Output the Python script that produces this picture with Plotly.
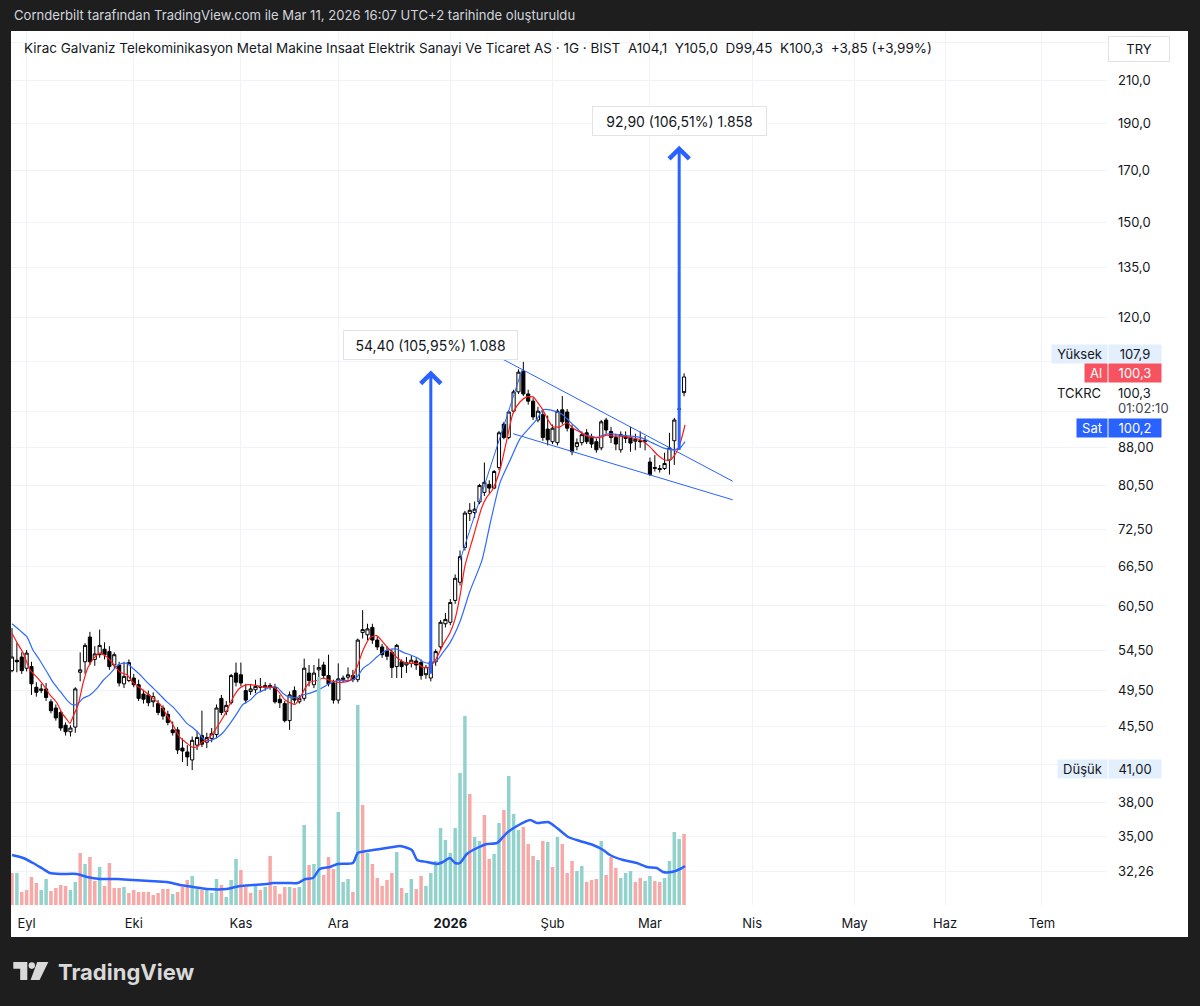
import math
import plotly.graph_objects as go

# ---------------- DATA ----------------
opens = [51.9,53.2,53.6,52.2,52.4,49.9,49.5,49.7,48.2,47.5,47.0,45.6,44.9,45.4,51.7,53.0,56.2,53.3,53.9,54.6,
         54.3,52.6,52.6,50.3,50.7,51.0,50.2,49.1,49.0,48.8,48.0,47.5,46.8,45.1,45.1,43.2,42.3,42.0,43.5,44.5,
         43.8,44.2,44.6,48.6,47.1,48.1,51.6,51.4,49.5,49.4,49.6,50.0,49.9,50.1,49.9,48.5,48.0,46.1,49.5,48.2,
         48.6,51.6,50.2,52.0,52.6,51.3,50.4,48.4,50.8,51.1,51.3,50.8,56.8,56.5,57.5,55.8,54.9,54.4,54.2,52.4,
         53.0,52.9,52.8,53.1,52.9,52.3,51.0,53.0,54.9,58.0,58.2,61.3,64.0,69.5,75.3,75.5,77.4,79.2,80.7,80.0,
         84.0,93.1,90.2,96.0,100.5,105.5,100.0,98.3,94.0,95.2,92.0,89.3,89.1,96.3,95.8,92.2,88.3,89.1,91.2,90.4,
         89.3,88.0,94.0,91.5,90.2,87.6,90.4,90.2,89.4,89.5,89.3,85.1,83.8,83.8,83.8,85.5,89.5,96.5,104.1]
highs = [57.4,55.4,54.2,54.5,53.0,50.5,50.3,50.4,48.5,47.9,47.2,45.9,45.6,49.9,54.2,55.4,56.9,55.0,57.2,55.5,
         55.0,54.2,53.0,53.0,53.3,51.5,50.8,49.6,49.5,49.3,48.4,47.8,47.2,46.0,45.4,44.2,43.5,44.4,45.0,47.2,
         44.8,45.3,47.9,49.0,48.3,51.5,52.9,52.9,50.3,50.3,50.8,51.0,50.5,50.4,50.3,49.0,48.3,49.4,50.0,49.0,
         53.4,52.6,52.6,53.4,53.0,53.9,50.8,52.8,51.3,52.3,52.0,56.0,59.9,58.0,58.0,56.3,55.3,55.0,54.6,55.3,
         53.3,53.6,53.8,53.5,53.3,52.6,53.2,54.6,58.5,59.5,61.5,65.2,69.0,75.8,77.2,77.5,80.8,85.0,81.5,83.5,
         91.6,93.6,96.2,101.0,106.0,107.9,101.0,99.0,97.0,96.0,95.0,93.0,96.5,99.5,96.5,93.0,90.0,91.5,92.0,91.0,
         90.0,94.0,94.5,92.5,91.0,91.5,91.5,92.5,91.0,91.5,90.5,86.0,86.5,84.5,87.0,91.2,94.5,99.5,105.0]
lows = [51.7,51.7,51.5,51.8,49.0,48.8,49.2,48.3,46.9,46.1,45.0,44.5,44.4,44.8,50.6,51.5,52.6,52.5,53.5,53.3,
        52.0,52.2,50.0,49.8,50.5,49.9,48.3,48.0,47.7,47.6,46.7,46.2,45.6,44.5,42.6,41.8,41.4,41.0,43.0,43.3,
        43.2,43.8,44.2,46.7,46.7,47.9,50.0,50.0,48.0,49.0,49.2,49.3,49.5,49.6,48.0,47.5,45.9,45.1,48.0,48.0,
        48.3,50.0,49.8,49.5,50.9,50.0,48.0,48.0,50.5,50.8,50.5,50.5,56.0,55.8,55.3,54.5,53.5,53.2,51.0,51.0,
        51.0,51.6,52.3,52.0,50.8,50.9,50.6,52.5,54.5,57.5,57.8,60.8,63.5,69.0,74.0,74.5,77.0,78.5,79.0,79.8,
        83.5,89.8,89.8,95.5,100.0,99.5,97.5,94.0,93.5,89.5,88.5,88.8,88.5,93.0,91.5,86.5,87.5,88.5,88.8,88.0,
        87.0,87.5,91.0,89.0,87.5,87.0,89.0,87.2,87.5,88.0,87.5,82.3,83.2,83.0,83.5,82.6,84.5,93.6,99.45]
closes = [53.6,53.0,51.9,54.1,50.3,49.3,49.7,48.7,47.2,46.4,45.3,44.9,45.3,49.7,52.0,55.1,53.0,54.0,55.1,53.9,
          52.4,53.9,50.4,51.2,52.9,50.2,48.6,48.5,48.1,48.2,47.0,46.6,45.9,44.8,43.0,42.9,42.8,44.0,44.3,43.6,
          44.3,44.7,47.5,47.0,47.8,51.3,50.5,50.4,48.4,49.7,50.0,49.9,50.1,49.9,48.2,48.1,46.1,49.0,48.4,48.6,
          52.2,50.7,51.6,52.3,51.3,50.3,48.4,50.9,51.0,51.4,50.8,55.8,57.2,57.3,55.8,54.9,53.9,53.7,52.3,55.1,
          52.4,52.6,53.2,52.6,51.3,51.4,53.0,54.3,58.2,58.6,61.0,64.6,68.0,75.4,75.9,76.1,80.5,81.1,80.0,83.2,
          91.2,90.2,95.8,100.5,105.3,100.0,98.3,94.7,96.0,90.2,89.7,92.2,96.0,93.6,92.2,87.2,89.1,90.8,89.3,88.8,
          87.6,93.6,91.8,90.2,88.8,90.8,90.0,89.0,89.8,89.3,89.6,82.6,84.0,83.6,84.8,88.0,94.0,96.45,100.3]
volumes = [3.2,3.2,1.3,1.5,2.8,2.2,1.5,2.6,1.4,1.7,2.0,1.9,1.5,2.3,5.2,4.1,4.8,2.4,3.8,1.9,
           4.2,1.7,1.7,1.8,1.2,1.5,1.3,1.3,1.3,1.0,1.2,1.6,1.6,1.1,1.3,1.8,2.5,2.9,1.6,1.5,
           1.5,1.2,2.6,2.0,0.8,2.5,4.6,3.5,1.8,1.2,1.9,1.5,1.8,4.9,1.9,1.1,1.8,1.8,1.7,1.8,
           8.0,4.0,4.1,22.8,3.0,4.8,3.6,9.3,2.3,2.6,1.3,20.0,10.0,5.2,4.1,2.7,1.9,2.5,3.2,5.3,
           1.7,1.2,2.6,1.6,2.9,1.9,3.2,4.4,7.7,6.5,5.2,7.7,13.2,18.9,11.1,6.8,6.4,9.0,4.6,5.1,
           8.2,9.5,12.9,9.1,7.5,7.8,6.1,4.9,4.5,6.4,6.3,3.8,6.8,6.1,3.2,4.4,3.4,3.9,2.3,2.5,
           2.6,6.4,3.0,4.8,3.7,2.7,3.2,3.4,2.3,2.7,2.4,2.9,2.4,2.3,2.7,4.4,7.3,6.6,7.1]
vol_dir = ("RTRRRRTTRRRRTTRTRRTRRRRTRRRRRRRRRTRRRTTRTTTRTTTRRRTRTRRRRTRT"
           "TRTTRRRTTTRTRTRRRRRTRTTRRTTTTTTTTTRTTRRTTRTTTRRRTRTRTRRRTTRRRTRRRTTTRRTTRRTTTTR")

red_ma_x = [0,1.0,2.3,3.7,5.1,6.4,7.8,9.2,10.3,11.3,11.9,12.5,13.6,14.6,15.6,17.0,18.1,19.5,20.7,22.2,23.6,24.8,
            26.3,27.7,29.0,30.4,31.8,33.1,34.5,35.9,37.0,38.0,39.0,40.0,41.3,42.7,44.1,45.4,46.8,48.3,50.3,51.5,
            53.0,54.0,55.0,56.1,57.1,58.1,59.1,60.2,61.2,62.6,63.9,65.3,66.7,68.0,69.4,70.8,72.1,73.5,74.9,76.2,
            77.6,79.1,80.3,81.7,83.2,84.4,85.8,87.3,88.5,89.9,91.0,92.0,93.0,94.7,96.5,97.5,98.6,100.2,101.6,
            102.9,104.3,105.7,107.0,108.0,109.0,110.1,111.1,112.5,114.0,115.2,116.6,118.1,119.3,120.7,122.2,
            123.4,124.8,126.9,129.0,131.0,132.6,134.1,135.1,136.1,137.2,138.2]
red_ma_y = [56.7,55.5,54.1,52.0,51.1,50.2,49.0,48.1,46.9,46.2,45.8,46.5,47.9,50.4,52.3,53.6,54.1,53.6,52.8,51.7,51.4,
            50.5,49.8,49.2,48.6,47.9,46.7,45.6,44.3,43.7,43.3,43.3,43.8,44.0,44.8,45.9,47.2,48.7,49.8,50.2,50.1,
            49.9,49.9,49.8,49.2,48.4,48.1,47.9,48.6,49.8,50.5,50.7,51.0,50.7,50.5,50.5,50.7,52.3,54.5,56.1,56.4,
            55.5,54.5,53.5,53.0,52.8,52.8,52.3,52.3,53.6,55.2,56.7,58.7,62.0,66.5,71.2,76.5,78.3,79.6,83.5,89.7,
            95.6,98.1,99.3,99.3,97.9,96.3,94.0,92.5,92.5,93.4,92.2,91.4,90.5,90.2,90.2,90.7,90.5,90.5,90.2,89.7,
            88.2,86.5,85.5,85.5,86.5,89.0,92.9]
blue_ma_x = [0,1.6,3.1,4.3,5.7,7.2,8.4,9.9,11.3,12.3,13.3,14.6,16.0,17.5,18.7,20.1,21.6,22.6,23.6,24.8,26.3,27.7,
             29.0,30.4,31.8,33.1,34.5,35.9,37.2,38.6,39.6,40.7,42.1,43.3,44.8,46.2,47.4,48.9,50.3,51.5,53.0,54.4,
             55.6,57.1,58.5,59.8,61.2,62.6,63.9,65.3,66.7,68.0,69.4,70.8,72.1,73.5,74.9,76.2,77.6,79.1,80.3,81.7,
             83.2,84.4,85.8,87.3,88.5,89.9,92.0,94.0,96.5,98.2,100.2,102.3,104.3,106.0,107.8,109.0,110.5,111.9,
             113.1,114.6,116.0,117.2,118.7,120.1,121.4,122.8,124.8,127.0,129.0,131.6,133.7,135.7,137.2,138.2]
blue_ma_y = [58.0,57.1,56.2,54.5,53.2,51.7,50.5,49.4,48.4,47.9,47.9,48.6,49.0,49.8,50.7,51.5,52.5,52.8,52.8,52.2,
             51.4,50.5,49.8,49.0,48.2,47.6,46.7,45.8,45.3,44.6,44.0,44.0,44.3,44.8,45.8,46.9,47.9,48.4,49.2,49.5,
             49.9,49.9,49.2,48.7,48.7,49.0,49.2,49.5,49.9,50.4,50.7,50.7,50.7,51.1,52.2,52.8,53.6,54.2,54.6,54.6,
             54.2,53.9,53.5,53.0,52.8,53.2,54.2,55.4,58.3,62.6,67.4,73.6,81.0,85.5,89.9,92.0,94.2,96.3,96.3,95.8,
             95.2,93.6,92.2,91.0,90.5,90.2,90.7,91.0,90.7,90.5,90.2,89.0,88.0,87.6,88.0,89.3]
vol_ma_x = [0,2.3,4.3,6.4,7.8,9.9,13.3,15.4,18.1,21.6,24.8,28.3,31.8,34.5,37.2,40.0,44.1,46.8,49.5,52.4,53.6,56.5,
            58.7,60.2,61.8,63.2,65.3,66.9,70.0,71.0,72.9,75.6,78.2,79.7,82.1,83.2,85.2,87.3,88.5,89.9,91.0,92.0,
            93.4,95.5,97.5,99.6,101.6,103.7,106.4,107.8,110.1,111.9,114.2,116.6,119.3,121.4,122.8,125.5,128.3,
            130.4,132.4,133.7,135.5,137.2,138.2]
vol_ma_y = [5.0,4.7,4.2,3.6,3.2,3.1,3.1,2.8,2.6,2.6,2.5,2.4,2.3,2.0,1.8,1.6,1.6,1.9,2.0,2.1,2.2,2.2,2.2,2.6,2.7,
            3.6,3.8,4.1,4.2,5.2,5.4,5.6,5.8,5.9,5.5,4.5,4.3,4.1,4.3,4.7,4.2,4.2,5.1,5.7,6.1,6.2,7.2,7.9,8.5,8.2,
            8.3,7.7,6.8,6.4,6.0,5.5,5.0,4.5,4.2,3.8,3.7,3.3,3.3,3.6,3.9]

# drawn lines (bar index, price)
wedge_upper_x = [100.6, 148.0]
wedge_upper_y = [108.7, 81.3]
wedge_lower_x = [102.9, 148.0]
wedge_lower_y = [91.0, 77.8]
pole_x = [92.0, 104.7]
pole_y = [67.4, 105.8]

# measurement arrows
arrow_bar = [86, 137]
arrow_from = [51.34, 87.22]
arrow_to = [105.74, 180.12]
arrow_text = ["54,40 (105,95%) 1.088", "92,90 (106,51%) 1.858"]

month_idx = [3, 25, 47, 67, 90, 111, 131, 152, 173, 191.6, 211.5]
month_lbl = ["Eyl", "Eki", "Kas", "Ara", "<b>2026</b>", "Şub", "Mar", "Nis", "May", "Haz", "Tem"]

price_ticks = [230, 210, 190, 170, 150, 135, 120, 108, 96, 88, 80.5, 72.5, 66.5, 60.5, 54.5, 49.5, 45.5,
               41.5, 38, 35, 32.26]
price_lbls = ["", "210,0", "190,0", "170,0", "150,0", "135,0", "120,0", "", "", "88,00", "80,50", "72,50",
              "66,50", "60,50", "54,50", "49,50", "45,50", "", "38,00", "35,00", "32,26"]

symbol_name = "Kirac Galvaniz Telekominikasyon Metal Makine Insaat Elektrik Sanayi Ve Ticaret AS · 1G · BIST"
title_txt = "Cornderbilt tarafından TradingView.com ile Mar 11, 2026 16:07 UTC+2 tarihinde oluşturuldu"
high_val, low_val, ask_val, bid_val = 107.9, 41.00, 100.3, 100.2
countdown = "01:02:10"
ticker = "TCKRC"

# ---------------- FIGURE ----------------
W, H = 1200, 1006
PL, PR, PT, PB = 11, 1107, 31, 905
FONT = "Inter"
TXT = "#131722"
BLUE = "#2962ff"


def fx(px):
    return (px - PL) / (PR - PL)


def fy(py):
    return (PB - py) / (PB - PT)


def fmt(v, dec):
    return f"{v:.{dec}f}".replace(".", ",")


n = len(closes)
idx = list(range(n))
up = [True] + [closes[i] >= closes[i - 1] for i in range(1, n)]

fig = go.Figure()

# volume
vcol = ["#92d2cc" if c == "T" else "#f7a9a7" for c in vol_dir[:n]]
fig.add_trace(go.Bar(x=idx, y=volumes, yaxis="y2", marker=dict(color=vcol, line=dict(width=0)),
                     width=0.72, hoverinfo="skip", showlegend=False))
fig.add_trace(go.Scatter(x=vol_ma_x, y=vol_ma_y, yaxis="y2", mode="lines",
                         line=dict(color=BLUE, width=2.5, shape="spline", smoothing=0.6),
                         hoverinfo="skip", showlegend=False))

# drawn wedge / pole
for xs, ys in [(wedge_upper_x, wedge_upper_y), (wedge_lower_x, wedge_lower_y), (pole_x, pole_y)]:
    fig.add_trace(go.Scatter(x=xs, y=ys, mode="lines", line=dict(color=BLUE, width=1),
                             hoverinfo="skip", showlegend=False))


def candles(mask, fill):
    sel = [i for i in idx if mask[i]]
    style = dict(line=dict(color="#000000", width=1), fillcolor=fill)
    return go.Candlestick(x=sel, open=[opens[i] for i in sel], high=[highs[i] for i in sel],
                          low=[lows[i] for i in sel], close=[closes[i] for i in sel],
                          increasing=style, decreasing=style, whiskerwidth=0,
                          hoverinfo="skip", showlegend=False)


fig.add_trace(candles(up, "#ffffff"))
fig.add_trace(candles([not u for u in up], "#000000"))

fig.add_trace(go.Scatter(x=blue_ma_x, y=blue_ma_y, mode="lines",
                         line=dict(color="#2f6bff", width=1.2, shape="spline", smoothing=0.6),
                         hoverinfo="skip", showlegend=False))
fig.add_trace(go.Scatter(x=red_ma_x, y=red_ma_y, mode="lines",
                         line=dict(color="#ff1a1a", width=1.2, shape="spline", smoothing=0.6),
                         hoverinfo="skip", showlegend=False))

ylo, yhi = 29.78, 236.37
fig.update_layout(
    width=W, height=H,
    margin=dict(l=PL, r=W - PR, t=PT, b=H - PB),
    paper_bgcolor="#1e1e1e", plot_bgcolor="#ffffff",
    showlegend=False, hovermode=False,
    font=dict(family=FONT, size=13, color=TXT),
    boxgap=0.35, boxgroupgap=0.0,
    xaxis=dict(range=[-0.205, 224.85], tickvals=month_idx, ticktext=month_lbl, showgrid=True,
               gridcolor="#f0f3fa", gridwidth=1, zeroline=False, showline=False, ticks="",
               rangeslider=dict(visible=False), tickfont=dict(size=13, color=TXT, family=FONT),
               ticklabelstandoff=9),
    yaxis=dict(type="log", range=[math.log10(ylo), math.log10(yhi)], side="right",
               tickvals=price_ticks, ticktext=price_lbls, showgrid=True, gridcolor="#f0f3fa",
               zeroline=False, showline=False, ticks="", ticklabelstandoff=10,
               tickfont=dict(size=13, color=TXT, family=FONT)),
    yaxis2=dict(overlaying="y", range=[0, 87.4], visible=False, showgrid=False),
)

shapes = []
# white panel
shapes.append(dict(type="rect", xref="paper", yref="paper", x0=fx(11), x1=fx(1188), y0=fy(937), y1=fy(31),
                   fillcolor="#ffffff", line=dict(width=0), layer="below"))


# TradingView logo glyph
def pth(pts):
    return "M " + " L ".join(f"{fx(a):.5f},{fy(b):.5f}" for a, b in pts) + " Z"


LOGO = "#d9d9d9"
shapes.append(dict(type="path", xref="paper", yref="paper",
                   path=pth([(13.3, 962), (27.3, 962), (27.3, 980), (20.2, 980), (20.2, 968.8), (13.3, 968.8)]),
                   fillcolor=LOGO, line=dict(width=0)))
shapes.append(dict(type="circle", xref="paper", yref="paper", x0=fx(28.6), x1=fx(35.0), y0=fy(968.9), y1=fy(962.3),
                   fillcolor=LOGO, line=dict(width=0)))
shapes.append(dict(type="path", xref="paper", yref="paper",
                   path=pth([(37.2, 962), (48.3, 962), (39.6, 980), (30.6, 980)]),
                   fillcolor=LOGO, line=dict(width=0)))
fig.update_layout(shapes=shapes)

ann = []
ann.append(dict(text=title_txt, x=fx(12), y=fy(15), xref="paper", yref="paper", xanchor="left",
                yanchor="middle", showarrow=False, font=dict(size=13.1, color="#d1d4dc", family=FONT)))
chg = closes[-1] - closes[-2]
pct = chg / closes[-2] * 100
hdr = (symbol_name + "\u00a0\u00a0" +
       f"A{fmt(opens[-1], 1)}\u00a0\u00a0Y{fmt(highs[-1], 1)}\u00a0\u00a0D{fmt(lows[-1], 2)}\u00a0\u00a0"
       f"K{fmt(closes[-1], 1)}\u00a0\u00a0+{fmt(chg, 2)} (+{fmt(pct, 2)}%)")
ann.append(dict(text=hdr, x=fx(22), y=fy(48), xref="paper", yref="paper", xanchor="left", yanchor="middle",
                showarrow=False, font=dict(size=13.5, color=TXT, family=FONT)))
# TRY box
ann.append(dict(text="TRY", x=fx(1108), y=fy(49), xref="paper", yref="paper", xanchor="left",
                yanchor="middle", showarrow=False, width=60, height=24, bgcolor="#ffffff",
                bordercolor="#e0e3eb", borderwidth=1, borderpad=0, font=dict(size=13, color=TXT, family=FONT)))


def box(text, x0, x1, yc, bg, fg, h=18):
    ann.append(dict(text=text, x=fx(x0), y=fy(yc), xref="paper", yref="paper", xanchor="left",
                    yanchor="middle", showarrow=False, width=x1 - x0, height=h, bgcolor=bg, borderpad=0,
                    align="center", font=dict(size=13, color=fg, family=FONT)))


LB = "#e3effd"
box("Yüksek", 1051, 1106, 354, LB, TXT)
box(fmt(high_val, 1), 1108, 1160, 354, LB, TXT)
box("Al", 1084, 1106, 373, "#f7525f", "#ffffff")
box(fmt(ask_val, 1), 1108, 1160, 373, "#f7525f", "#ffffff")
box("Sat", 1076, 1106, 428, BLUE, "#ffffff")
box(fmt(bid_val, 1), 1108, 1160, 428, BLUE, "#ffffff")
box("Düşük", 1057, 1106, 769, LB, TXT)
box(fmt(low_val, 2), 1108, 1160, 769, LB, TXT)
ann.append(dict(text=ticker, x=fx(1103), y=fy(393), xref="paper", yref="paper", xanchor="right",
                yanchor="middle", showarrow=False, font=dict(size=13, color=TXT, family=FONT)))
ann.append(dict(text=fmt(closes[-1], 1), x=fx(1116), y=fy(393), xref="paper", yref="paper", xanchor="left",
                yanchor="middle", showarrow=False, font=dict(size=13, color=TXT, family=FONT)))
ann.append(dict(text=countdown, x=fx(1116), y=fy(408), xref="paper", yref="paper", xanchor="left",
                yanchor="middle", showarrow=False, font=dict(size=13, color="#434651", family=FONT)))

# measurement arrows
for b, f0, f1, t in zip(arrow_bar, arrow_from, arrow_to, arrow_text):
    ann.append(dict(x=b, y=math.log10(f1), ax=b, ay=math.log10(f0), xref="x", yref="y", axref="x", ayref="y",
                    showarrow=True, arrowhead=4, arrowsize=1.3, arrowwidth=3, arrowcolor=BLUE, text=""))
    ann.append(dict(x=b, y=math.log10(f1), xref="x", yref="y", yshift=25, text=t, showarrow=False,
                    width=167, height=22, bgcolor="#ffffff", bordercolor="#e0e3eb", borderwidth=1, borderpad=3,
                    font=dict(size=14, color=TXT, family=FONT)))

ann.append(dict(text="TradingView", x=fx(56), y=fy(972), xref="paper", yref="paper", xanchor="left",
                yanchor="middle", showarrow=False, font=dict(size=22, color=LOGO, family=FONT, weight=700)))
fig.update_layout(annotations=ann)

fig.write_html("out.html")
